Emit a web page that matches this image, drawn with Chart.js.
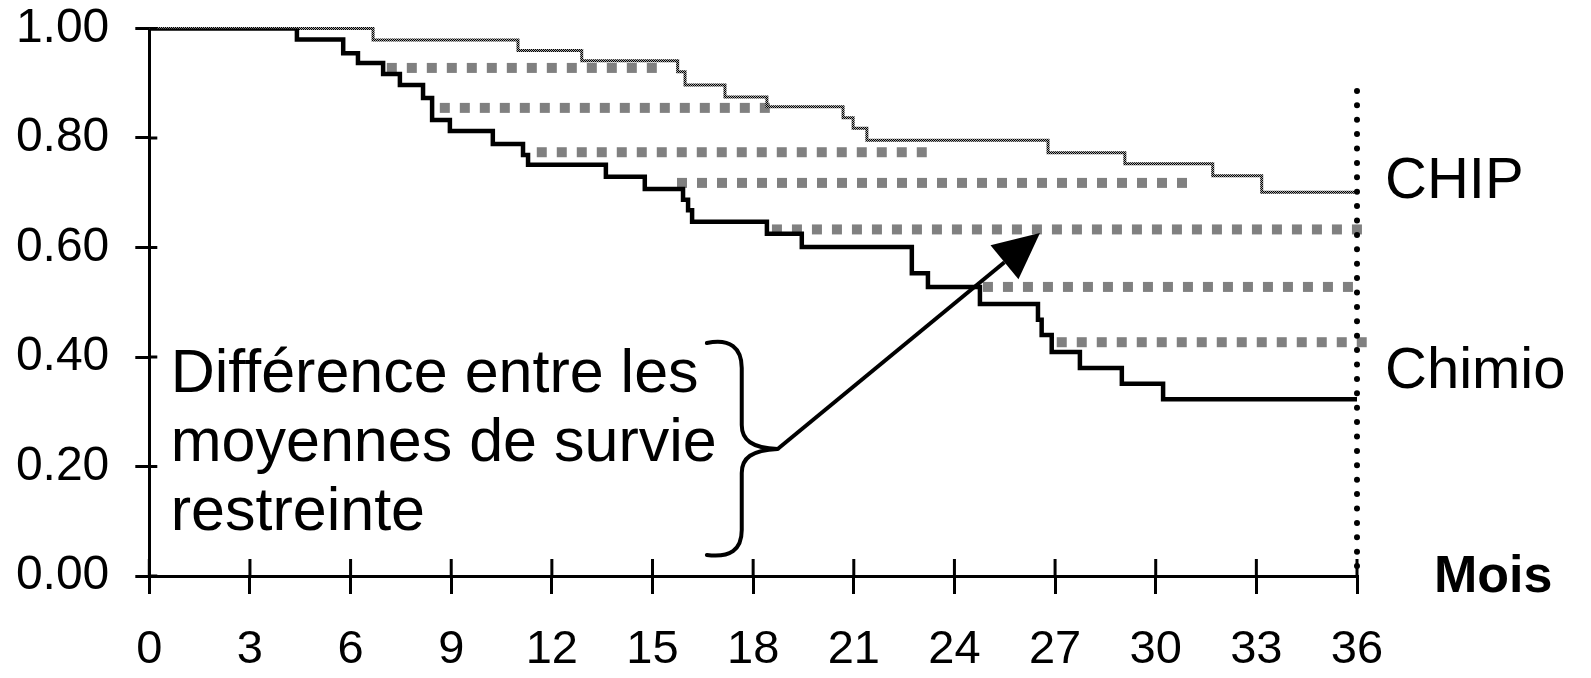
<!DOCTYPE html>
<html><head><meta charset="utf-8">
<script src="https://cdn.jsdelivr.net/npm/chart.js@4.4.1/dist/chart.umd.min.js"></script>
<style>html,body{margin:0;padding:0;background:#fff;} canvas{display:block;}</style>
</head><body>
<canvas id="c" width="1591" height="678"></canvas>
<script>
// ---- data ----
const chipTimes = [0, 6.67, 10.99, 12.89, 15.75, 15.97, 17.16, 18.41, 20.68, 20.98, 21.39, 26.79, 29.08, 31.70, 33.16, 36];
const chipSurv  = [1.00, 0.979, 0.960, 0.941, 0.921, 0.897, 0.875, 0.857, 0.837, 0.818, 0.796, 0.773, 0.753, 0.731, 0.701, 0.701];
const chimioTimes = [0, 4.40, 5.78, 6.22, 6.97, 7.47, 8.16, 8.43, 8.96, 10.24, 11.14, 11.29, 13.61, 14.77, 15.91, 16.06, 16.18, 18.41, 19.45, 22.73, 23.21, 24.76, 26.49, 26.60, 26.90, 27.74, 28.99, 30.22, 36];
const chimioSurv  = [1.00, 0.980, 0.955, 0.937, 0.917, 0.897, 0.873, 0.833, 0.813, 0.789, 0.769, 0.751, 0.729, 0.707, 0.687, 0.668, 0.647, 0.625, 0.601, 0.553, 0.528, 0.497, 0.468, 0.440, 0.409, 0.380, 0.351, 0.323, 0.323];
const gapLevels = [0.928, 0.855, 0.774, 0.718, 0.633, 0.528, 0.427];
const gapStart  = [7.08, 8.66, 11.55, 15.73, 18.56, 24.85, 27.05];
const gapEnd    = [15.15, 18.60, 23.27, 31.17, 36.29, 36.15, 36.29];
const xTicks = [0, 3, 6, 9, 12, 15, 18, 21, 24, 27, 30, 33, 36];
const yTicks = [0, 0.2, 0.4, 0.6, 0.8, 1.0];
const restrictTime = 36;
const restrictTop = 0.886;
const seriesLabels = ['CHIP', 'Chimio'];
const xTitle = 'Mois';
const noteLines = ['Différence entre les', 'moyennes de survie', 'restreinte'];

const FONT = '"Liberation Sans", Arial, sans-serif';
function pts(t, s) { return t.map((x, i) => ({ x: x, y: s[i] })); }

const checker = (() => {
  const c = document.createElement('canvas'); c.width = 2; c.height = 2;
  const g = c.getContext('2d');
  g.fillStyle = '#a8a8a8'; g.fillRect(0, 0, 2, 2);
  g.fillStyle = '#000000'; g.fillRect(0, 0, 1, 1); g.fillRect(1, 1, 1, 1);
  return g.createPattern(c, 'repeat');
})();

const datasets = [];
gapLevels.forEach((lv, i) => {
  datasets.push({
    data: [{ x: gapStart[i], y: lv }, { x: gapEnd[i], y: lv }],
    borderColor: '#808080', borderWidth: 10, borderDash: [10, 10], borderCapStyle: 'butt',
    pointRadius: 0, clip: false, order: 5
  });
});
datasets.push({
  label: seriesLabels[0], data: pts(chipTimes, chipSurv), stepped: 'before',
  borderColor: checker, borderWidth: 3, pointRadius: 0, borderJoinStyle: 'miter', order: 3, clip: false
});
datasets.push({
  label: seriesLabels[1], data: pts(chimioTimes, chimioSurv), stepped: 'before',
  borderColor: '#000000', borderWidth: 4.5, pointRadius: 0, borderJoinStyle: 'miter', order: 2
});
datasets.push({
  data: [{ x: restrictTime, y: restrictTop }, { x: restrictTime, y: 0 }],
  borderColor: '#000000', borderWidth: 6, borderDash: [0, 14.4], borderCapStyle: 'round',
  pointRadius: 0, clip: false, order: 1
});

const annot = {
  id: 'annot',
  afterDraw(chart) {
    const ctx = chart.ctx, xs = chart.scales.x, ys = chart.scales.y;
    const X = v => xs.getPixelForValue(v), Y = v => ys.getPixelForValue(v);
    const a = chart.chartArea;
    ctx.save();
    ctx.strokeStyle = '#000'; ctx.lineWidth = 3; ctx.beginPath();
    yTicks.forEach(v => { ctx.moveTo(a.left, Y(v)); ctx.lineTo(a.left + 8, Y(v)); });
    xTicks.forEach(v => { ctx.moveTo(X(v), a.bottom); ctx.lineTo(X(v), a.bottom - 17); });
    ctx.stroke();

    ctx.fillStyle = '#000'; ctx.textAlign = 'left'; ctx.textBaseline = 'alphabetic';
    ctx.font = '61px ' + FONT;
    const noteBase = [0.336, 0.210, 0.084];
    noteLines.forEach((t, i) => ctx.fillText(t, X(0.64), Y(noteBase[i])));

    ctx.lineWidth = 4; ctx.lineCap = 'round'; ctx.lineJoin = 'round';
    ctx.beginPath();
    ctx.moveTo(X(16.62), Y(0.4256));
    ctx.bezierCurveTo(X(17.31), Y(0.4347), X(17.66), Y(0.4164), X(17.66), Y(0.3799));
    ctx.lineTo(X(17.66), Y(0.2758));
    ctx.bezierCurveTo(X(17.66), Y(0.2484), X(17.96), Y(0.2338), X(18.73), Y(0.2320));
    ctx.bezierCurveTo(X(17.96), Y(0.2301), X(17.66), Y(0.2155), X(17.66), Y(0.1881));
    ctx.lineTo(X(17.66), Y(0.0840));
    ctx.bezierCurveTo(X(17.66), Y(0.0475), X(17.31), Y(0.0329), X(16.62), Y(0.0384));
    ctx.stroke();

    const tx = X(18.73), ty = Y(0.2320), hx = X(26.55), hy = Y(0.6265);
    const ang = Math.atan2(hy - ty, hx - tx), L = 46, W = 22;
    const bx = hx - L * Math.cos(ang), by = hy - L * Math.sin(ang);
    ctx.lineCap = 'butt';
    ctx.beginPath(); ctx.moveTo(tx, ty); ctx.lineTo(bx, by); ctx.stroke();
    ctx.beginPath();
    ctx.moveTo(hx, hy);
    ctx.lineTo(bx + W * Math.sin(ang), by - W * Math.cos(ang));
    ctx.lineTo(bx - W * Math.sin(ang), by + W * Math.cos(ang));
    ctx.closePath(); ctx.fill();

    ctx.font = '58px ' + FONT;
    ctx.fillText(seriesLabels[0], X(restrictTime) + 28, Y(0.690));
    ctx.fillText(seriesLabels[1], X(restrictTime) + 28, Y(0.343));
    ctx.font = 'bold 52px ' + FONT;
    ctx.fillText(xTitle, X(restrictTime) + 77, Y(0) + 16);
    ctx.restore();
  }
};

new Chart(document.getElementById('c'), {
  type: 'line',
  data: { datasets: datasets },
  plugins: [annot],
  options: {
    responsive: false, animation: false, devicePixelRatio: 1,
    layout: { padding: { left: 0, right: 234, top: 28.5, bottom: 0 } },
    plugins: { legend: { display: false }, tooltip: { enabled: false } },
    scales: {
      x: {
        type: 'linear', min: 0, max: 36,
        afterBuildTicks: s => { s.ticks = xTicks.map(v => ({ value: v })); },
        afterFit: s => { s.height = 102; s.paddingLeft = 0; s.paddingRight = 0; },
        ticks: { font: { family: FONT, size: 47 }, color: '#000', padding: 28, maxRotation: 0, autoSkip: false },
        grid: { drawOnChartArea: false, drawTicks: true, tickLength: 18, color: '#000', lineWidth: 3 },
        border: { color: '#000', width: 3 }
      },
      y: {
        type: 'linear', min: 0, max: 1,
        afterBuildTicks: s => { s.ticks = yTicks.map(v => ({ value: v })); },
        afterFit: s => { s.width = 149.3; s.paddingTop = 0; s.paddingBottom = 0; },
        ticks: { font: { family: FONT, size: 48 }, color: '#000', padding: 26, callback: v => Number(v).toFixed(2) },
        grid: { drawOnChartArea: false, drawTicks: true, tickLength: 14, color: '#000', lineWidth: 3 },
        border: { color: '#000', width: 3 }
      }
    }
  }
});
</script>
</body></html>
